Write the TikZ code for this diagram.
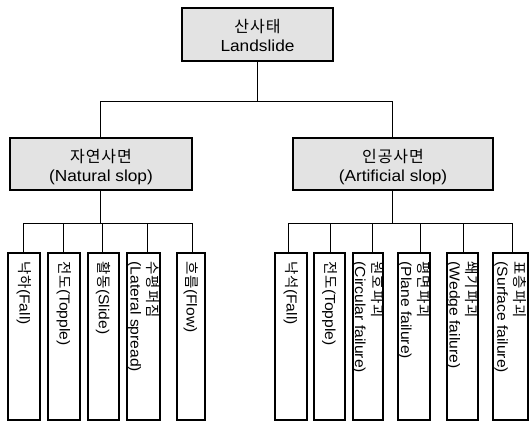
\documentclass[tikz,border=0pt]{standalone}
\usepackage{fontspec}
\setmainfont{Liberation Sans}[FakeStretch=1.08]
\newfontfamily\kr{Noto Sans CJK KR}[LetterSpace=6]
\begin{document}
\begin{tikzpicture}[x=1pt,y=-1pt,
  boxfill/.style={draw=black, line width=1.1pt, fill=black!11, inner sep=0pt},
  leafbox/.style={draw=black, line width=1.1pt, fill=white, inner sep=0pt},
  midtext/.style={align=center, font=\fontsize{16}{19}\selectfont, inner sep=0pt},
  leaftext/.style={align=left, font=\fontsize{14.5}{17}\selectfont, inner sep=0pt, rotate=-90, anchor=west},
  conn/.style={line width=0.9pt}]
\useasboundingbox (0,0) rectangle (530,422);
% top
\node[boxfill, minimum width=151pt, minimum height=53pt] (top) at (257.5,34.5) {};
\node[midtext] (toptext) at (257.5,35) {{\kr 산사태}\\Landslide};
% middle
\node[boxfill, minimum width=182pt, minimum height=52pt] (mL) at (101,164) {};
\node[midtext] (mLt) at (101,167) {{\kr 자연사면}\\(Natural slop)};
\node[boxfill, minimum width=200pt, minimum height=52pt] (mR) at (393,164) {};
\node[midtext] (mRt) at (393,167) {{\kr 인공사면}\\(Artificial slop)};
\coordinate (jT) at (257,101);
\draw[conn] (top.south -| jT) -- (jT);
\draw[conn] (jT) -| (mL.north -| 100,0);
\draw[conn] (jT) -| (mR.north -| 392,0);
% leaves
\foreach \n/\a/\b in {L1/8/40, L2/48/80, L3/88/119, L4/127/160, L5/177/205,
  R1/275/307, R2/314/345, R3/353/383, R4/398/430, R5/447/478, R6/493/528}{
  \node[leafbox, minimum width={(\b-\a)*1pt}, minimum height=167pt] (\n) at ({(\a+\b)/2},336.5) {};
}
\coordinate (jL) at (100,223);
\coordinate (jR) at (392,223);
\draw[conn] (mL.south -| jL) -- (jL);
\draw[conn] (mR.south -| jR) -- (jR);
\foreach \n/\x in {L1/23, L2/63, L3/102, L4/147, L5/192}{
  \draw[conn] (jL) -| (\n.north -| \x,0);
}
\foreach \n/\x in {R1/288, R2/330, R3/372, R4/420, R5/463, R6/512}{
  \draw[conn] (jR) -| (\n.north -| \x,0);
}
\node[leaftext] (L1t) at ([yshift=-9pt]L1.north) {{\kr 낙하}(Fall)};
\node[leaftext] (L2t) at ([yshift=-9pt]L2.north) {{\kr 전도}(Topple)};
\node[leaftext] (L3t) at ([yshift=-9pt]L3.north) {{\kr 활동}(Slide)};
\node[leaftext] (L4t) at ([yshift=-9pt]L4.north) {{\kr 수평퍼짐}\\(Lateral spread)};
\node[leaftext] (L5t) at ([yshift=-9pt]L5.north) {{\kr 흐름}(Flow)};
\node[leaftext] (R1t) at ([yshift=-9pt]R1.north) {{\kr 낙석}(Fall)};
\node[leaftext] (R2t) at ([yshift=-9pt]R2.north) {{\kr 전도}(Topple)};
\node[leaftext] (R3t) at ([yshift=-9pt]R3.north) {{\kr 원호파괴}\\(Circular failure)};
\node[leaftext] (R4t) at ([yshift=-9pt]R4.north) {{\kr 평면파괴}\\(Plane failure)};
\node[leaftext] (R5t) at ([yshift=-9pt]R5.north) {{\kr 쐐기파괴}\\(Wedge failure)};
\node[leaftext] (R6t) at ([yshift=-9pt]R6.north) {{\kr 표층파괴}\\(Surface failure)};
\end{tikzpicture}
\end{document}
